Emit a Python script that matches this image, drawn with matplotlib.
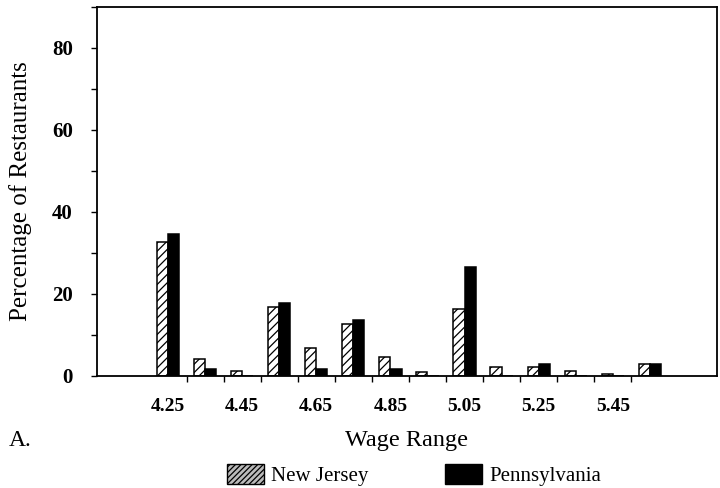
import matplotlib

matplotlib.use("Agg")
import matplotlib.pyplot as plt
from matplotlib.patches import Patch
from matplotlib.ticker import FixedLocator, MultipleLocator

# Starting wage bins (dollars per hour), one group of bars per bin
wage_bins = ["4.25", "4.35", "4.45", "4.55", "4.65", "4.75", "4.85",
             "4.95", "5.05", "5.15", "5.25", "5.35", "5.45", "5.55"]

# Percentage of restaurants in each bin
new_jersey = [32.6, 4.1, 1.1, 16.8, 6.7, 12.6, 4.6, 0.8, 16.3, 2.0, 2.2, 1.1, 0.3, 2.9]
pennsylvania = [34.6, 1.6, 0.0, 17.6, 1.6, 13.6, 1.6, 0.0, 26.5, 0.0, 2.9, 0.0, 0.0, 2.9]

# Only every other bin gets a label on the axis
labeled_bins = ["4.25", "4.45", "4.65", "4.85", "5.05", "5.25", "5.45"]

plt.rcParams["font.family"] = ["Liberation Serif", "DejaVu Serif"]
plt.rcParams["hatch.linewidth"] = 0.9

fig = plt.figure(figsize=(7.2, 4.88), dpi=100)
ax = fig.add_axes([0.1347, 0.2305, 0.8611, 0.7552])

x = list(range(len(wage_bins)))
width = 0.3
ax.bar([i - width / 2 for i in x], new_jersey, width=width, color="white",
       edgecolor="black", linewidth=1.1, hatch="////", label="New Jersey")
ax.bar([i + width / 2 for i in x], pennsylvania, width=width, color="black",
       edgecolor="black", linewidth=1.1, label="Pennsylvania")

ax.set_xlim(-1.915, 14.81)
ax.set_ylim(0, 90)

# labels sit under their bins, small ticks mark the bin edges
ax.set_xticks([wage_bins.index(b) for b in labeled_bins])
ax.set_xticklabels(labeled_bins)
ax.xaxis.set_minor_locator(FixedLocator([i + 0.5 for i in x[:-1]]))
ax.tick_params(axis="x", which="major", length=0, pad=16, labelsize=14)
ax.tick_params(axis="x", which="minor", direction="out", length=4, width=1)

ax.set_yticks([0, 20, 40, 60, 80])
ax.yaxis.set_minor_locator(MultipleLocator(10))
ax.tick_params(axis="y", which="both", direction="out", length=4.5, width=1)
ax.tick_params(axis="y", which="major", pad=13, labelsize=15)

for lbl in ax.get_xticklabels() + ax.get_yticklabels():
    lbl.set_fontweight("bold")

for side in ax.spines.values():
    side.set_linewidth(1.3)

ax.set_ylabel("Percentage of Restaurants", fontsize=18, labelpad=14)
ax.set_xlabel("Wage Range", fontsize=17.5, labelpad=11)

fig.text(0.012, 0.098, "A.", fontsize=17, ha="left", va="center")

handles = [
    Patch(facecolor="#bbbbbb", edgecolor="black", hatch="//////", label="New Jersey"),
    Patch(facecolor="black", edgecolor="black", label="Pennsylvania"),
]
fig.legend(handles=handles, loc="center", bbox_to_anchor=(0.575, 0.026), ncol=2,
           frameon=False, fontsize=15, handlelength=1.78, handleheight=1.06,
           handletextpad=0.34, columnspacing=3.65, borderpad=0)

fig.savefig("out.png", dpi=100)
